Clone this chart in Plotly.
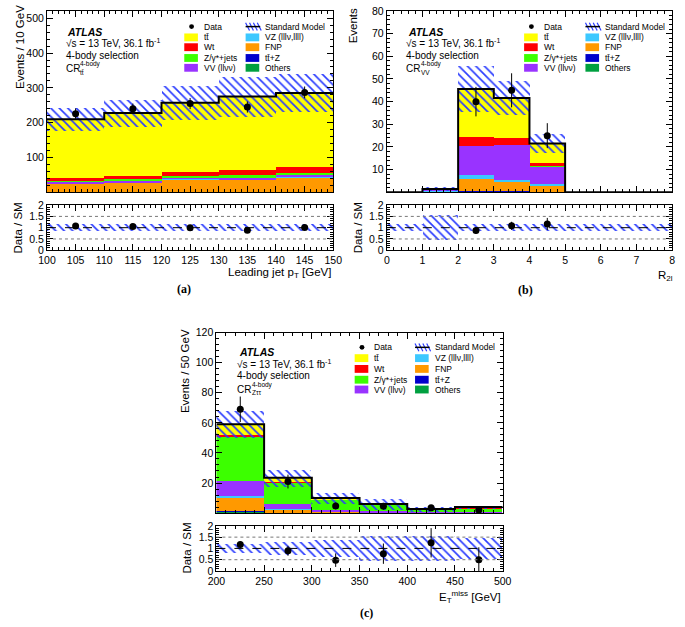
import plotly.graph_objects as go

W, H = 685, 627
def px(x): return x / W
def py(y): return 1 - y / H

FONT = "Liberation Sans"
SERIF = "Liberation Serif"

# ---------------- colours ----------------
C_TT = "#ffff00"; C_WT = "#ff0000"; C_Z = "#3cff00"; C_VV = "#9933ff"
C_VZ = "#3cc8ff"; C_FNP = "#ff9900"; C_TTZ = "#0000cc"; C_OTH = "#00a040"
HATCH = "#2a3cff"

# ---------------- panel (a): leading jet pT ----------------
a_edges = [100, 110, 120, 130, 140, 150]
a_centers = [105, 115, 125, 135, 145]
a_others = [1, 1, 1, 1, 1]
a_ttz = [0.5, 0.5, 0.6, 0.6, 0.7]
a_fnp = [25, 28, 36, 35, 42]
a_vz = [0.5, 0.5, 0.5, 0.5, 0.5]
a_vv = [4, 5, 6, 7, 8]
a_zjets = [3, 3, 4, 5, 5]
a_wt = [7, 9, 12, 15, 17]
a_tt = [169, 181, 197, 211, 211]
a_data_x = [105, 115, 125, 135, 145]
a_data = [226, 240, 255, 245, 287]
a_data_err = [15, 15, 16, 16, 17]
a_unc = [0.16, 0.17, 0.19, 0.21, 0.19]
a_ratio_unc = [0.16, 0.16, 0.17, 0.17, 0.17]
a_ratio_err = [0.07, 0.07, 0.07, 0.07, 0.07]

# ---------------- panel (b): R_2l ----------------
b_edges = [0, 1, 2, 3, 4, 5, 6, 7, 8]
b_centers = [0.5, 1.5, 2.5, 3.5, 4.5, 5.5, 6.5, 7.5]
b_others = [0, 0.1, 0.3, 0.3, 0.2, 0, 0, 0]
b_ttz = [0, 0, 0.2, 0.2, 0.1, 0, 0, 0]
b_fnp = [0, 0.3, 5.5, 4.0, 2.8, 0, 0, 0]
b_vz = [0, 0.1, 1.5, 1.2, 0.5, 0, 0, 0]
b_vv = [0, 0.9, 13.0, 15.3, 8.0, 0, 0, 0]
b_zjets = [0, 0, 0.1, 0.1, 0.1, 0, 0, 0]
b_wt = [0, 0, 4.0, 3.0, 1.5, 0, 0, 0]
b_tt = [0, 0.1, 21.0, 17.5, 8.3, 0, 0, 0]
b_data_x = [2.5, 3.5, 4.5]
b_data = [40, 45, 25]
b_data_err = [6.5, 7.5, 5.5]
b_unc = [0, 0.5, 0.22, 0.18, 0.2, 0, 0, 0]
b_ratio_unc = [0.15, 0.55, 0.17, 0.17, 0.17, 0.15, 0.15, 0.15]
b_ratio_err = [0.15, 0.18, 0.27]

# ---------------- panel (c): ETmiss ----------------
c_edges = [200, 250, 300, 350, 400, 450, 500]
c_centers = [225, 275, 325, 375, 425, 475]
c_others = [1.3, 0.5, 0.2, 0.1, 0.1, 0.1]
c_ttz = [0.1, 0.1, 0.05, 0.05, 0.05, 0.05]
c_fnp = [9.5, 2.2, 1.0, 0.6, 0.5, 0.6]
c_vz = [0.5, 0.2, 0.1, 0.1, 0.05, 0.05]
c_vv = [10.0, 3.5, 0.8, 0.6, 0.3, 0.4]
c_zjets = [29.5, 14.0, 7.3, 4.2, 1.4, 2.4]
c_wt = [1.5, 0.5, 0.1, 0.1, 0.1, 0.1]
c_tt = [6.6, 2.5, 0.45, 0.25, 0.3, 0.3]
c_data_x = [225, 275, 325, 375, 425, 475]
c_data = [69, 21, 4.8, 4.6, 3.5, 2.0]
c_data_err = [8.5, 4.6, 2.2, 2.2, 1.9, 1.5]
c_unc = [0.15, 0.24, 0.37, 0.62, 0.6, 0.3]
c_ratio_unc = [0.2, 0.28, 0.38, 0.57, 0.55, 0.45]
c_ratio_err = [0.14, 0.22, 0.3, 0.45, 0.65, 0.55]

fig = go.Figure()

PATTERN = dict(shape="\\", fgcolor=HATCH, bgcolor="rgba(0,0,0,0)", fillmode="overlay",
               fgopacity=1, size=6, solidity=0.28)

def add_panel(n_main, n_ratio, edges, centers, comps, dx, dy, derr, unc, runc, rerr):
    xm, ym = "x" + n_main, "y" + n_main
    xr, yr = "x" + n_ratio, "y" + n_ratio
    widths = [edges[i + 1] - edges[i] for i in range(len(centers))]
    cum = [0.0] * len(centers)
    for vals, col in comps:
        fig.add_trace(go.Bar(x=centers, y=vals, base=list(cum), width=widths,
                             marker=dict(color=col, line=dict(width=0)),
                             xaxis=xm, yaxis=ym, showlegend=False, hoverinfo="skip"))
        cum = [c + v for c, v in zip(cum, vals)]
    totals = cum
    # uncertainty band
    fig.add_trace(go.Bar(x=centers, y=[2 * t * u for t, u in zip(totals, unc)],
                         base=[t * (1 - u) for t, u in zip(totals, unc)], width=widths,
                         marker=dict(color="rgba(0,0,0,0)", line=dict(width=0), pattern=PATTERN),
                         xaxis=xm, yaxis=ym, showlegend=False, hoverinfo="skip"))
    # SM total step line
    fig.add_trace(go.Scatter(x=edges, y=totals + [totals[-1]], mode="lines",
                             line=dict(color="black", width=2, shape="hv"),
                             xaxis=xm, yaxis=ym, showlegend=False, hoverinfo="skip"))
    # data
    fig.add_trace(go.Scatter(x=dx, y=dy, mode="markers",
                             marker=dict(color="black", size=7),
                             error_y=dict(type="data", array=derr, color="black", thickness=1, width=0),
                             xaxis=xm, yaxis=ym, showlegend=False, hoverinfo="skip"))
    # ratio band
    fig.add_trace(go.Bar(x=centers, y=[2 * u for u in runc], base=[1 - u for u in runc], width=widths,
                         marker=dict(color="rgba(0,0,0,0)", line=dict(width=0), pattern=PATTERN),
                         xaxis=xr, yaxis=yr, showlegend=False, hoverinfo="skip"))
    tot_at = dict(zip(centers, totals))
    ratio = [d / tot_at[x] for x, d in zip(dx, dy)]
    fig.add_trace(go.Scatter(x=dx, y=ratio, mode="markers",
                             marker=dict(color="black", size=7),
                             error_y=dict(type="data", array=rerr, color="black", thickness=1, width=0),
                             xaxis=xr, yaxis=yr, showlegend=False, hoverinfo="skip"))
    # reference lines in ratio
    for yv, dash, col in [(0.5, "dot", "#777777"), (1.5, "dot", "#777777"), (1.0, "dash", "black")]:
        fig.add_shape(type="line", xref=xr + " domain", yref=yr, x0=0, x1=1, y0=yv, y1=yv,
                      line=dict(color=col, width=1, dash=dash), layer="above")

def comps_of(o, tz, f, vz, vv, z, wt, tt):
    return [(o, C_OTH), (tz, C_TTZ), (f, C_FNP), (vz, C_VZ), (vv, C_VV), (z, C_Z), (wt, C_WT), (tt, C_TT)]

add_panel("", "2", a_edges, a_centers, comps_of(a_others, a_ttz, a_fnp, a_vz, a_vv, a_zjets, a_wt, a_tt),
          a_data_x, a_data, a_data_err, a_unc, a_ratio_unc, a_ratio_err)
add_panel("3", "4", b_edges, b_centers, comps_of(b_others, b_ttz, b_fnp, b_vz, b_vv, b_zjets, b_wt, b_tt),
          b_data_x, b_data, b_data_err, b_unc, b_ratio_unc, b_ratio_err)
add_panel("5", "6", c_edges, c_centers, comps_of(c_others, c_ttz, c_fnp, c_vz, c_vv, c_zjets, c_wt, c_tt),
          c_data_x, c_data, c_data_err, c_unc, c_ratio_unc, c_ratio_err)

def ax(domain, rng, anchor, labels=True, tickvals=None, dtick=None, minor=None, size=10.5):
    d = dict(domain=domain, range=rng, anchor=anchor, showline=True, linecolor="black", linewidth=1,
             mirror="allticks", ticks="inside", ticklen=6, tickcolor="black", showgrid=False,
             zeroline=False, showticklabels=labels,
             tickfont=dict(family=FONT, size=size, color="black"))
    if tickvals is not None:
        d.update(tickmode="array", tickvals=tickvals)
    if dtick is not None:
        d.update(tickmode="linear", tick0=rng[0], dtick=dtick)
    if minor is not None:
        d["minor"] = dict(ticks="inside", ticklen=3, tickcolor="black", tickmode="linear",
                          tick0=rng[0], dtick=minor, showgrid=False)
    return d

xa = [px(39), px(333)]; xb = [px(388), px(681)]; xc = [px(213), px(507)]
ymain_ab = [py(190), py(5)]; yrat_ab = [py(249), py(203)]
ymain_c = [py(517), py(333)]; yrat_c = [py(576), py(530)]
rat_ticks = [0, 0.5, 1, 1.5, 2]

fig.update_layout(
    width=W, height=H, margin=dict(l=0, r=0, t=0, b=0),
    paper_bgcolor="white", plot_bgcolor="white", barmode="overlay", bargap=0,
    showlegend=False,
    xaxis=ax(xa, [100, 150], "y", labels=False, dtick=5, minor=1),
    yaxis=ax(ymain_ab, [0, 521], "x", tickvals=[100, 200, 300, 400, 500], minor=20),
    xaxis2=ax(xa, [100, 150], "y2", dtick=5, minor=1),
    yaxis2=ax(yrat_ab, [0, 2], "x2", tickvals=rat_ticks, minor=0.1),
    xaxis3=ax(xb, [0, 8], "y3", labels=False, dtick=1, minor=0.2),
    yaxis3=ax(ymain_ab, [0, 80], "x3", tickvals=[10, 20, 30, 40, 50, 60, 70, 80], minor=2),
    xaxis4=ax(xb, [0, 8], "y4", tickvals=[0, 1, 2, 3, 4, 5, 6, 7, 8], minor=0.2),
    yaxis4=ax(yrat_ab, [0, 2], "x4", tickvals=rat_ticks, minor=0.1),
    xaxis5=ax(xc, [200, 500], "y5", labels=False, dtick=50, minor=10),
    yaxis5=ax(ymain_c, [0, 120], "x5", tickvals=[20, 40, 60, 80, 100, 120], minor=4),
    xaxis6=ax(xc, [200, 500], "y6", dtick=50, minor=10),
    yaxis6=ax(yrat_c, [0, 2], "x6", tickvals=rat_ticks, minor=0.1),
)

ann = []
def text(x, y, s, size=10, xanchor="left", yanchor="middle", angle=0, family=FONT, bold=False, italic=False):
    if bold:
        s = "<b>" + s + "</b>"
    if italic:
        s = "<i>" + s + "</i>"
    ann.append(dict(x=px(x), y=py(y), xref="paper", yref="paper", text=s, showarrow=False,
                    xanchor=xanchor, yanchor=yanchor, textangle=angle,
                    font=dict(family=family, size=size, color="black")))

# axis titles
text(11, 42, "Events / 10 GeV", 11.5, "center", angle=-90)
text(9, 226, "Data / SM", 11.5, "center", angle=-90)
text(353, 20, "Events", 11.5, "center", angle=-90)
text(358, 226, "Data / SM", 11.5, "center", angle=-90)
text(181, 372, "Events / 50 GeV", 11.5, "center", angle=-90)
text(183, 553, "Data / SM", 11.5, "center", angle=-90)
text(333, 272, "Leading jet p<sub>T</sub> [GeV]", 11.5, "right")
text(684, 275, "R<sub>2l</sub>", 11.5, "right")
text(507, 603, "E<sub>T</sub><sup>miss</sup> [GeV]", 11.5, "right")
text(180, 289, "(a)", 12, "center", family=SERIF, bold=True)
text(530, 290, "(b)", 12, "center", family=SERIF, bold=True)
text(367, 619, "(c)", 12, "center", family=SERIF, bold=True)

# info blocks
def info(x, y0, sub):
    text(x + 2, y0, "ATLAS", 10.5, bold=True, italic=True)
    text(x, y0 + 11.5, "√s = 13 TeV, 36.1 fb<sup>-1</sup>", 10)
    text(x, y0 + 24, "4-body selection", 10)
    text(x, y0 + 38, "CR", 10)
    text(x + 15, y0 + 33, "4-body", 6.5)
    text(x + 15, y0 + 41.5, sub, 6.5)

info(56, 26, "tt̄")
info(406, 26, "VV")
info(232, 353, "Zττ")

# legends
shapes = []
entries = [("Data", "data"), ("Standard Model", "sm"), ("tt̄", C_TT), ("VZ (lllν,llll)", C_VZ),
           ("Wt", C_WT), ("FNP", C_FNP), ("Z/γ*+jets", C_Z), ("tt̄+Z", C_TTZ),
           ("VV (llνν)", C_VV), ("Others", C_OTH)]

def legend(c1, c2, rows):
    for i, (lab, kind) in enumerate(entries):
        r, c = divmod(i, 2)
        sx = c1 if c == 0 else c2
        y = rows[r]
        if kind == "data":
            shapes.append(dict(type="circle", xref="paper", yref="paper",
                               x0=px(sx + 5), x1=px(sx + 10), y0=py(y + 2.5), y1=py(y - 2.5),
                               fillcolor="black", line=dict(width=0)))
        elif kind == "sm":
            for k in range(4):
                x0 = sx + k * 4
                shapes.append(dict(type="line", xref="paper", yref="paper",
                                   x0=px(x0), x1=px(x0 + 4), y0=py(y - 4), y1=py(y + 4),
                                   line=dict(color=HATCH, width=1.2)))
            shapes.append(dict(type="line", xref="paper", yref="paper",
                               x0=px(sx), x1=px(sx + 15), y0=py(y), y1=py(y),
                               line=dict(color="black", width=1.5)))
        else:
            shapes.append(dict(type="rect", xref="paper", yref="paper",
                               x0=px(sx), x1=px(sx + 14), y0=py(y + 4), y1=py(y - 4),
                               fillcolor=kind, line=dict(width=0)))
        text(sx + 18, y, lab, 8.5)

legend(180, 243, [21, 32, 42, 53, 63])
legend(529, 592, [21, 32, 42, 53, 63])
legend(355, 417, [348, 359, 370, 381, 391])

fig.update_layout(annotations=ann, shapes=list(fig.layout.shapes) + shapes)
# the page body has a default 8px margin; remove it so the 685x627 figure fills the window
fig.write_html("out.html", config={"displayModeBar": False},
               post_script="document.body.style.margin='0px';")
